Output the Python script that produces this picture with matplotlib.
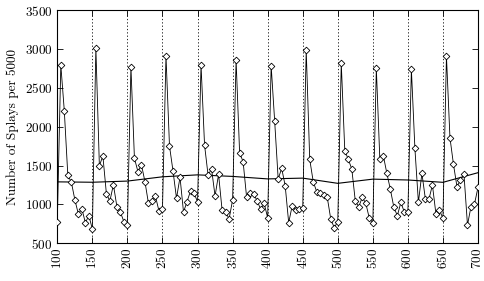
import numpy as np
import matplotlib
matplotlib.use('Agg')
import matplotlib.pyplot as plt

plt.rcParams['font.family'] = 'cmr10'
plt.rcParams['axes.formatter.use_mathtext'] = True
plt.rcParams['font.size'] = 9.5

## Data
# sample positions (every 5 units)
x = list(range(100, 705, 5))
# splay counts, one list per 50-unit period
splays = [
    774, 2793, 2201, 1374, 1288, 1061, 877, 945, 765, 855,
    684, 3011, 1498, 1623, 1138, 1044, 1254, 971, 899, 778,
    731, 2771, 1593, 1421, 1511, 1292, 1014, 1040, 1104, 915,
    941, 2912, 1751, 1430, 1079, 1349, 902, 1035, 1172, 1143,
    1035, 2793, 1764, 1378, 1455, 1108, 1387, 928, 906, 812,
    1057, 2857, 1665, 1549, 1091, 1143, 1134, 1048, 937, 1014,
    829, 2784, 2072, 1327, 1464, 1241, 765, 983, 928, 941,
    950, 2985, 1580, 1292, 1163, 1143, 1121, 1091, 812, 701,
    778, 2815, 1691, 1580, 1455, 1044, 971, 1091, 1014, 821,
    765, 2750, 1580, 1626, 1400, 1194, 963, 855, 1027, 899,
    906, 2737, 1721, 1027, 1400, 1066, 1066, 1250, 877, 928,
    821, 2908, 1858, 1516, 1228, 1314, 1387, 735, 971, 1005,
    1220,
]
# smoothed level at the period boundaries
x_avg = [100, 150, 200, 250, 300, 350, 400, 450, 500, 550, 600, 650, 700]
avg = [1290, 1285, 1300, 1355, 1380, 1360, 1328, 1338, 1271, 1325, 1314, 1284, 1408]
# dashed period markers
x_marks = [150, 200, 250, 300, 350, 400, 450, 500, 550, 600, 650]

## Plot
fig = plt.figure(figsize=(4.84, 2.81), dpi=100)
ax = fig.add_axes([0.1184, 0.1342, 0.8692, 0.8302])

for xm in x_marks:
    ax.axvline(xm, color='black', lw=0.6, ls=(0, (1.5, 2.5)), zorder=1)

ax.plot(x_avg, avg, color='black', lw=0.8, zorder=2)
ax.plot(x, splays, color='black', lw=0.6, marker='D', ms=3.4,
        mfc='white', mec='black', mew=0.6, zorder=3)

ax.set_xlim(100, 700)
ax.set_ylim(500, 3500)
ax.set_xticks(range(100, 701, 50))
ax.set_yticks(range(500, 3501, 500))
ax.tick_params(direction='in', top=True, right=True, length=4, width=0.6)
for lab in ax.get_xticklabels():
    lab.set_rotation(90)
for s in ax.spines.values():
    s.set_linewidth(0.8)
ax.set_ylabel('Number of Splays per 5000')

fig.savefig('out.png', dpi=100)
plt.close()
